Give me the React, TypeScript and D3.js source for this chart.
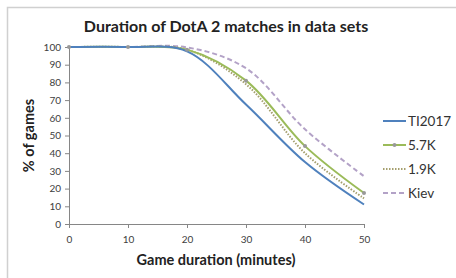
import React, { useEffect, useRef } from "react";
import * as d3 from "d3";

// values (x = minutes, y = % of games still running)
const minutes = [0, 10, 20, 30, 40, 50];
const ti2017 = [100, 100, 97.5, 67.5, 35, 11];
const k57 = [100, 100, 98.5, 81, 44, 17.5];
const k19 = [100, 100, 98.5, 79, 40, 14.5];
const kiev = [100, 100, 99.8, 88, 53.5, 27];
const yTicks = [0, 10, 20, 30, 40, 50, 60, 70, 80, 90, 100];
const xTicks = [0, 10, 20, 30, 40, 50];

const series = [
  { name: "TI2017", values: ti2017, color: "#4F81BD", dash: null, markers: false },
  { name: "5.7K", values: k57, color: "#9BBB59", dash: null, markers: true },
  { name: "1.9K", values: k19, color: "#A59F6E", dash: "1.5,1.5", markers: false },
  { name: "Kiev", values: kiev, color: "#B3A2C7", dash: "5,3", markers: false },
];

const W = 456;
const H = 278;
const FONT = "Lato, 'Open Sans', sans-serif";

export default function App() {
  const svgRef = useRef<SVGSVGElement>(null);

  useEffect(() => {
    const svg = d3.select(svgRef.current);
    svg.selectAll("*").remove();

    const plot = { left: 69, right: 364, top: 47, bottom: 224 };

    // chart frame (only top/left edges visible in the crop)
    svg
      .append("rect")
      .attr("x", 7.5)
      .attr("y", 7.5)
      .attr("width", W + 10)
      .attr("height", H + 10)
      .attr("fill", "#fff")
      .attr("stroke", "#d0d0d0")
      .attr("stroke-width", 1.5);

    const x = d3.scaleLinear().domain([0, 50]).range([plot.left, plot.right]);
    const y = d3.scaleLinear().domain([0, 100]).range([plot.bottom, plot.top]);

    const yAxis = svg
      .append("g")
      .attr("transform", `translate(${plot.left},0)`)
      .call(d3.axisLeft(y).tickValues(yTicks).tickSize(4).tickPadding(4));
    const xAxis = svg
      .append("g")
      .attr("transform", `translate(0,${plot.bottom})`)
      .call(d3.axisBottom(x).tickValues(xTicks).tickSize(4).tickPadding(8));

    [yAxis, xAxis].forEach((g) => {
      g.select(".domain").attr("stroke", "#868686");
      g.selectAll(".tick line").attr("stroke", "#868686");
      g.selectAll(".tick text")
        .attr("fill", "#404040")
        .style("font-family", FONT)
        .style("font-size", "10px");
    });

    const line = d3
      .line<number>()
      .x((_, i) => x(minutes[i]))
      .y((d) => y(d))
      .curve(d3.curveCatmullRom.alpha(0.5));

    // draw back to front so the blue line sits on top
    series
      .slice()
      .reverse()
      .forEach((s) => {
        svg
          .append("path")
          .datum(s.values)
          .attr("d", line)
          .attr("fill", "none")
          .attr("stroke", s.color)
          .attr("stroke-width", 2)
          .attr("stroke-dasharray", s.dash);
      });

    // small grey markers on 5.7K
    const k = series[1];
    svg
      .selectAll("circle.mk")
      .data(k.values)
      .enter()
      .append("circle")
      .attr("class", "mk")
      .attr("cx", (_, i) => x(minutes[i]))
      .attr("cy", (d) => y(d))
      .attr("r", 2)
      .attr("fill", "#999");

    // titles
    svg
      .append("text")
      .attr("x", 226)
      .attr("y", 32)
      .attr("text-anchor", "middle")
      .style("font-family", FONT)
      .style("font-weight", "bold")
      .style("font-size", "16px")
      .attr("fill", "#222")
      .text("Duration of DotA 2 matches in data sets");

    svg
      .append("text")
      .attr("x", 216)
      .attr("y", 265)
      .attr("text-anchor", "middle")
      .style("font-family", FONT)
      .style("font-weight", "bold")
      .style("font-size", "14.5px")
      .attr("fill", "#222")
      .text("Game duration (minutes)");

    svg
      .append("text")
      .attr("transform", `translate(34,${(plot.top + plot.bottom) / 2}) rotate(-90)`)
      .attr("text-anchor", "middle")
      .style("font-family", FONT)
      .style("font-weight", "bold")
      .style("font-size", "14.5px")
      .attr("fill", "#222")
      .text("% of games");

    // legend
    const legend = svg
      .selectAll("g.legend")
      .data(series)
      .enter()
      .append("g")
      .attr("class", "legend")
      .attr("transform", (_, i) => `translate(383,${121 + i * 24})`);
    legend
      .append("line")
      .attr("x1", 0)
      .attr("x2", 23)
      .attr("stroke", (d) => d.color)
      .attr("stroke-width", 2)
      .attr("stroke-dasharray", (d) => d.dash);
    legend
      .filter((d) => d.markers)
      .append("circle")
      .attr("cx", 11.5)
      .attr("r", 2)
      .attr("fill", "#999");
    legend
      .append("text")
      .attr("x", 25)
      .attr("dy", "0.35em")
      .style("font-family", FONT)
      .style("font-size", "13.5px")
      .attr("fill", "#333")
      .text((d) => d.name);
  }, []);

  return (
    <svg
      ref={svgRef}
      width={W}
      height={H}
      style={{ position: "absolute", left: 0, top: 0, background: "#fff" }}
    />
  );
}
